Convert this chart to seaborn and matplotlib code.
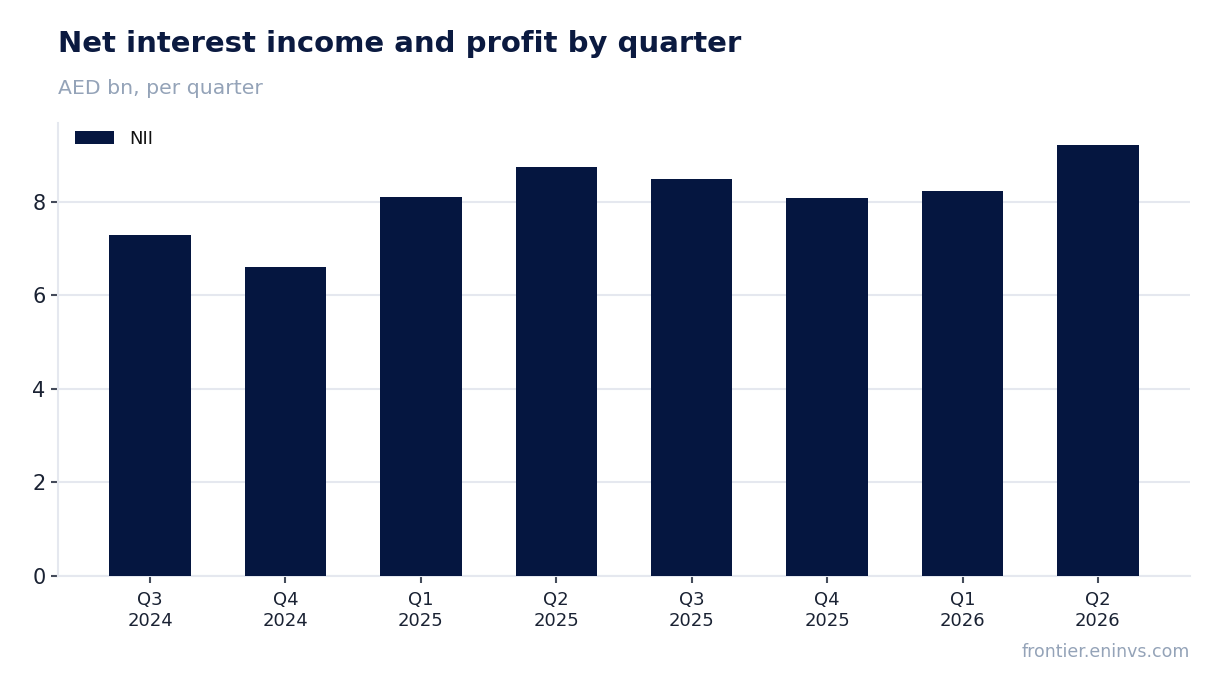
import numpy as np
import pandas as pd
import seaborn as sns
import matplotlib.pyplot as plt

quarters = ['Q3\n2024', 'Q4\n2024', 'Q1\n2025', 'Q2\n2025', 'Q3\n2025', 'Q4\n2025', 'Q1\n2026', 'Q2\n2026']
nii = [7.29, 6.61, 8.10, 8.74, 8.49, 8.08, 8.23, 9.22]

navy = '#051640'
grid_col = '#e5e8ef'
text_col = '#1a2233'
muted = '#94a3b8'

sns.set_theme(style='white')
plt.rcParams['font.family'] = ['DejaVu Sans']

df = pd.DataFrame({'quarter': quarters, 'nii': nii})

fig = plt.figure(figsize=(12.2, 6.93), dpi=100)
ax = fig.add_axes([58 / 1220, 1 - 576 / 693, (1190 - 58) / 1220, (576 - 123) / 693])

sns.barplot(data=df, x='quarter', y='nii', color=navy, width=0.6, saturation=1,
            label='NII', ax=ax, zorder=3, linewidth=0)

ax.set_xlim(-0.68, 7.68)
ax.set_ylim(0, 9.68)
ax.set_yticks([0, 2, 4, 6, 8])
ax.yaxis.grid(True, color=grid_col, linewidth=1.5, zorder=0)
ax.set_axisbelow(True)
ax.set_xlabel('')
ax.set_ylabel('')

for side in ['top', 'right']:
    ax.spines[side].set_visible(False)
for side in ['left', 'bottom']:
    ax.spines[side].set_color(grid_col)
    ax.spines[side].set_linewidth(1.5)

ax.tick_params(axis='y', labelsize=15, colors='#444b5a', labelcolor=text_col, length=5, width=1.5, left=True, pad=4)
ax.tick_params(axis='x', labelsize=13, colors='#444b5a', labelcolor=text_col, length=5, width=1.5, bottom=True, pad=6)

# legend sits tight in the top-left corner like the original
ax.legend(loc='upper left', bbox_to_anchor=(0.0083, 1.001), frameon=False, fontsize=13,
          handlelength=2.2, handleheight=0.75, borderaxespad=0, labelcolor='#111111')

fig.text(58 / 1220, 1 - 44 / 693, 'Net interest income and profit by quarter',
         fontsize=21, fontweight='bold', color='#0b1a40', va='center', ha='left')
fig.text(58 / 1220, 1 - 88 / 693, 'AED bn, per quarter',
         fontsize=14.7, color=muted, va='center', ha='left')
fig.text(1190 / 1220, 1 - 652 / 693, 'frontier.eninvs.com',
         fontsize=12.5, color=muted, va='center', ha='right')

fig.savefig('out.png', dpi=100)
